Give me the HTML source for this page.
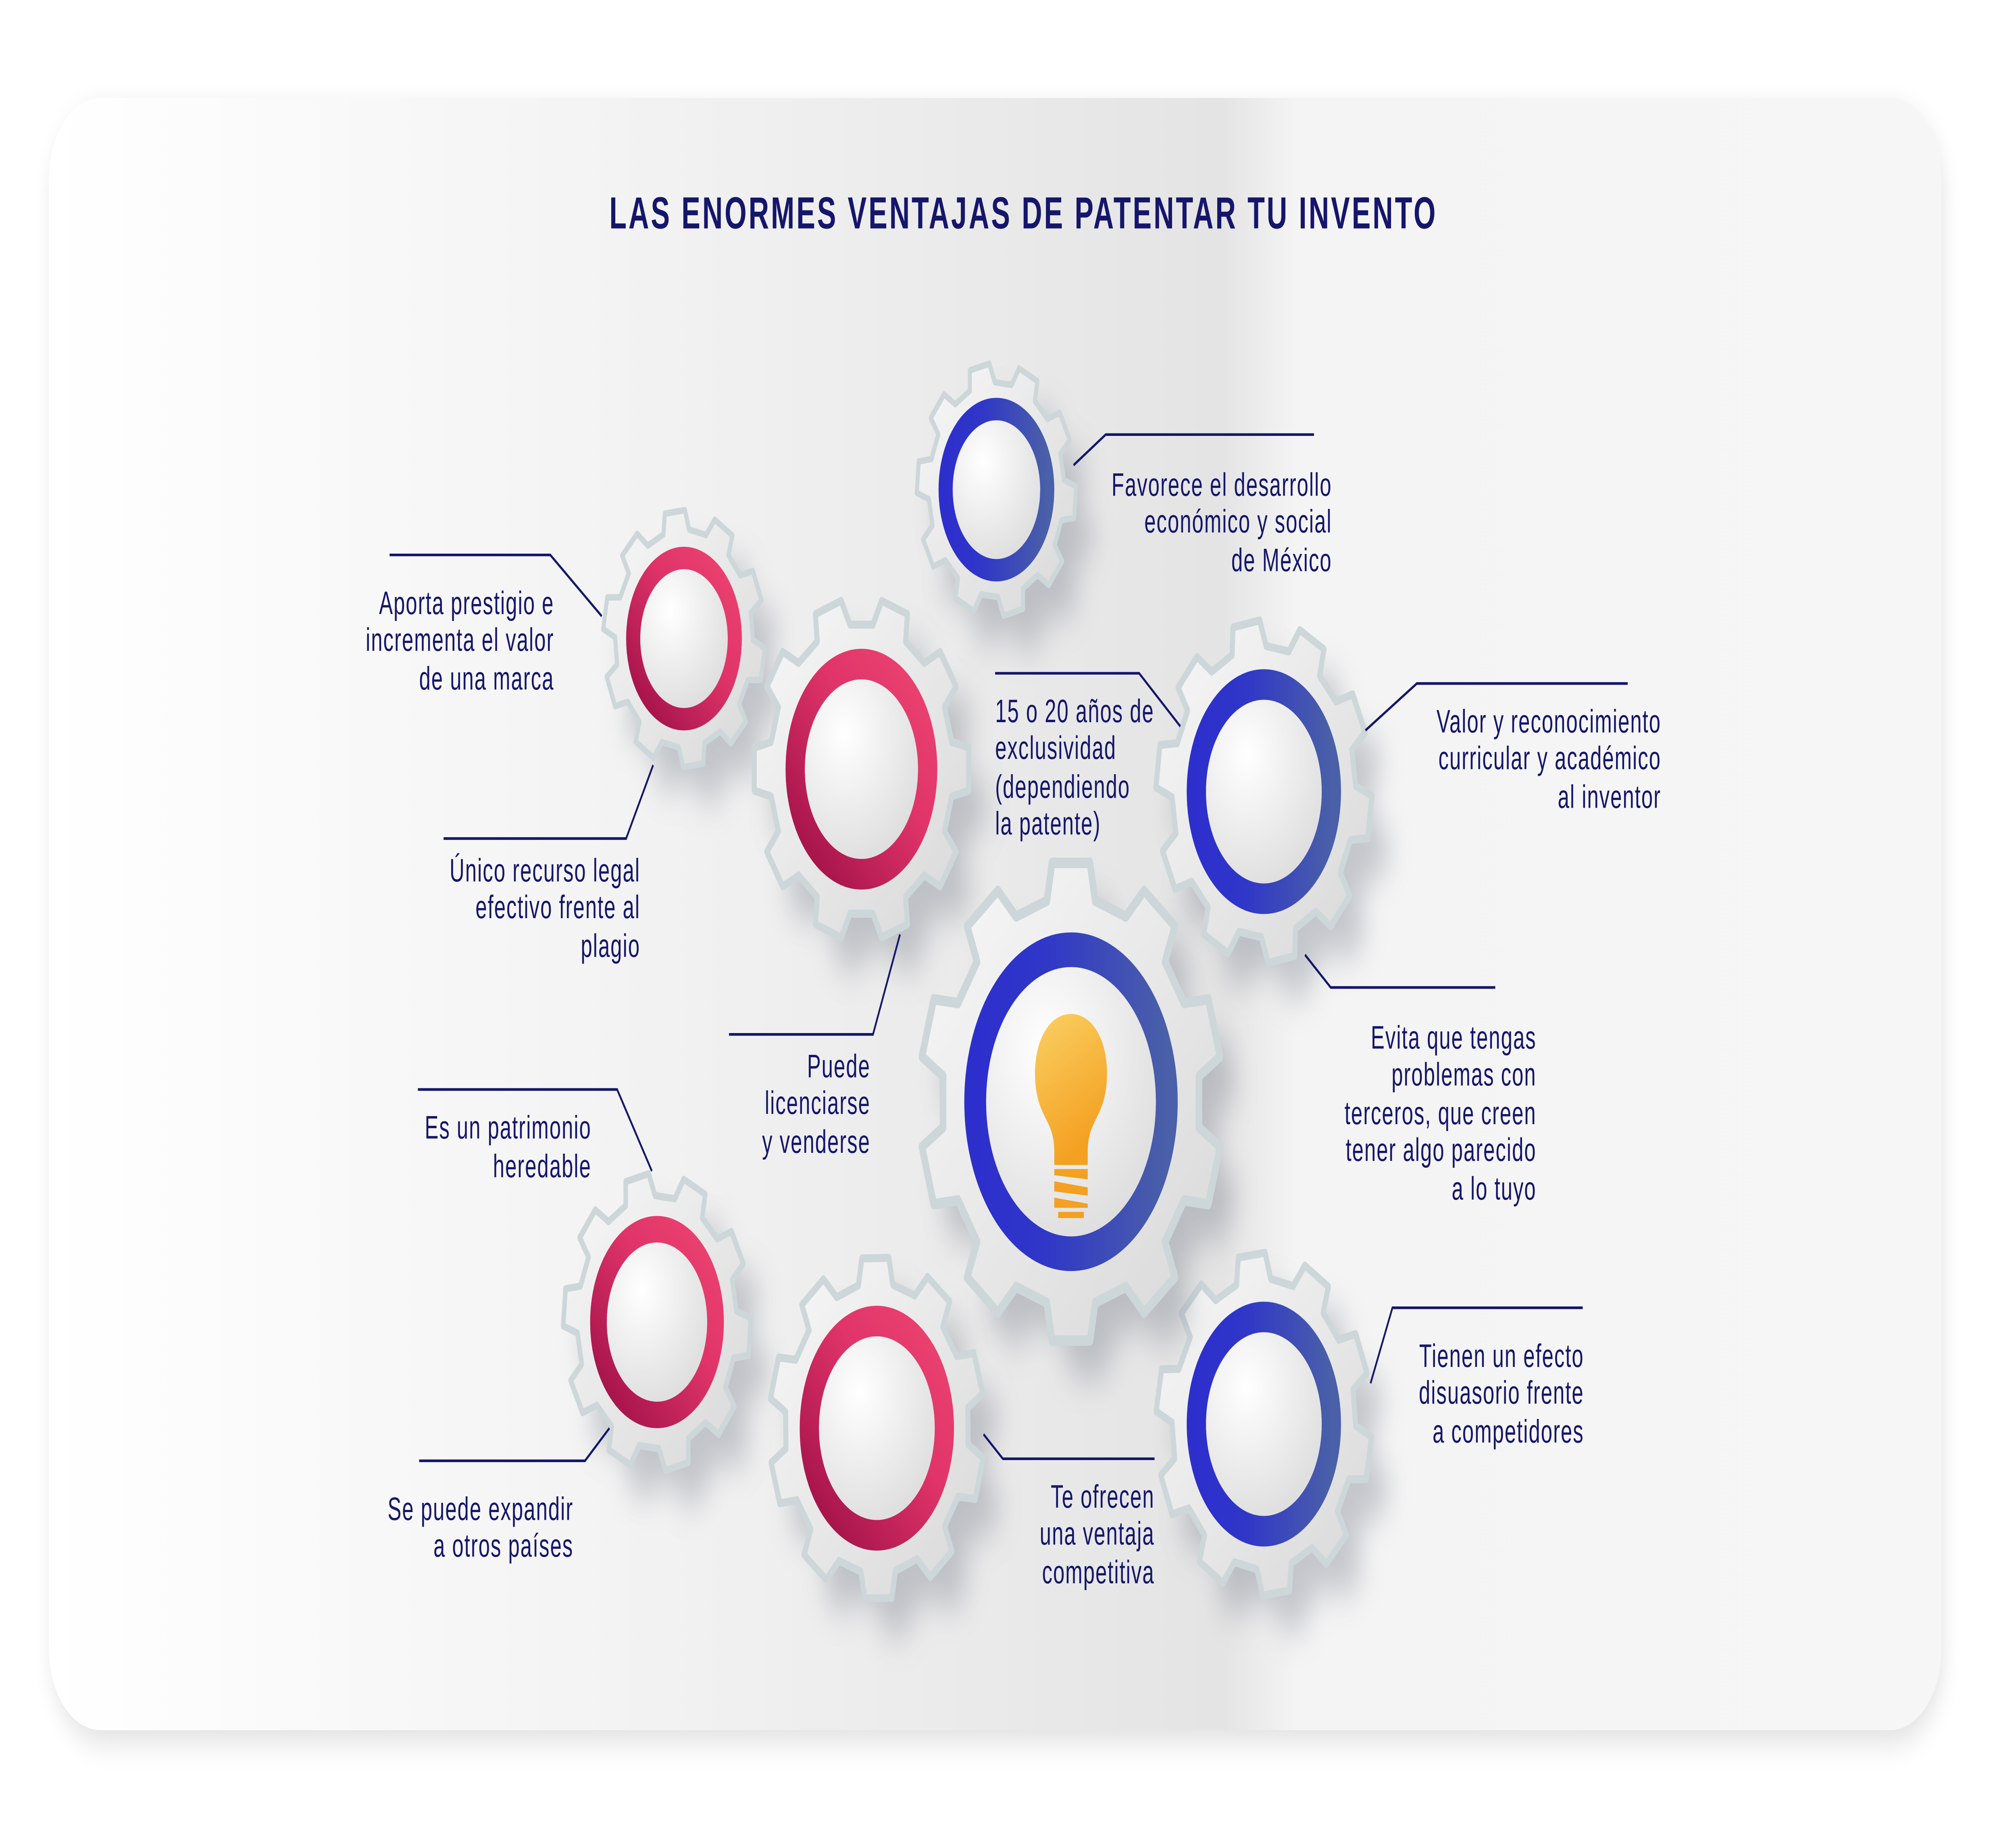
<!DOCTYPE html>
<html><head><meta charset="utf-8"><style>
html,body{margin:0;padding:0;background:#fff;width:100%;height:100%;overflow:hidden}
svg{display:block;width:100vw;height:100vh;position:absolute;left:0;top:0}
text{font-family:"Liberation Sans",sans-serif;fill:#15166b}
</style></head><body>
<svg id="s" viewBox="0 0 1568 894.5" preserveAspectRatio="none" xmlns="http://www.w3.org/2000/svg">
<defs>
<filter id="ps" x="-10%" y="-10%" width="120%" height="130%"><feGaussianBlur stdDeviation="8"/></filter>
<filter id="gs" x="-50%" y="-50%" width="200%" height="200%"><feGaussianBlur stdDeviation="9"/></filter>
<linearGradient id="bg" x1="0" y1="0" x2="1" y2="0">
<stop offset="0" stop-color="#ffffff"/><stop offset="0.3" stop-color="#f3f3f3"/><stop offset="0.62" stop-color="#e4e4e4"/><stop offset="0.66" stop-color="#f4f4f4"/><stop offset="1" stop-color="#f6f6f6"/></linearGradient>
<linearGradient id="gf" x1="0" y1="0" x2="1" y2="1"><stop offset="0" stop-color="#f8f8f8"/><stop offset="1" stop-color="#d8d8d8"/></linearGradient>
<radialGradient id="inn" cx="0.35" cy="0.3" r="0.8"><stop offset="0" stop-color="#ffffff"/><stop offset="1" stop-color="#dcdcdc"/></radialGradient>
<linearGradient id="pink" x1="0" y1="1" x2="1" y2="0"><stop offset="0" stop-color="#9c0f45"/><stop offset="0.6" stop-color="#e0346a"/><stop offset="1" stop-color="#ec4470"/></linearGradient>
<linearGradient id="blue" x1="0" y1="0" x2="1" y2="0"><stop offset="0" stop-color="#2d2fcc"/><stop offset="0.35" stop-color="#2f36c8"/><stop offset="1" stop-color="#4a60a8"/></linearGradient>
<linearGradient id="bulb" x1="0" y1="0" x2="0.4" y2="1"><stop offset="0" stop-color="#fad064"/><stop offset="1" stop-color="#f4a020"/></linearGradient>
</defs>
<rect x="42" y="54" width="1468" height="800" rx="40" fill="#000" opacity="0.12" filter="url(#ps)"/>
<rect x="38" y="48" width="1472" height="800" rx="40" fill="url(#bg)"/>
<text x="796" y="112" text-anchor="middle" font-size="22" font-weight="bold" letter-spacing="1.5" fill="#1a1a6e">LAS ENORMES VENTAJAS  DE PATENTAR TU INVENTO</text>
<g id="gears"></g>
<g stroke="#15166b" stroke-width="1.3" fill="none">
<polyline points="835,228 860,213 1022,213"/>
<polyline points="303,272 428,272 468,302"/>
<polyline points="508,375 487,411 345,411"/>
<polyline points="774,330 886,330 918,356"/>
<polyline points="1062,358 1102,335 1266,335"/>
<polyline points="1015,468 1035,484 1163,484"/>
<polyline points="700,458 679,507 567,507"/>
<polyline points="325,534 480,534 507,574"/>
<polyline points="474,700 455,716 326,716"/>
<polyline points="765,703 780,715 898,715"/>
<polyline points="1066,678 1083,641 1231,641"/>
</g>
<g font-size="16" letter-spacing="0.6">
<g text-anchor="end">
<text x="1036" y="243">Favorece el desarrollo</text><text x="1036" y="261">económico y social</text><text x="1036" y="280">de México</text>
<text x="431" y="301">Aporta prestigio e</text><text x="431" y="319">incrementa el valor</text><text x="431" y="338">de una marca</text>
<text x="498" y="432">Único recurso  legal</text><text x="498" y="450">efectivo frente al</text><text x="498" y="469">plagio</text>
<text x="1292" y="359">Valor y reconocimiento</text><text x="1292" y="377">curricular y académico</text><text x="1292" y="396">al inventor</text>
<text x="1195" y="514">Evita que tengas</text><text x="1195" y="532">problemas con</text><text x="1195" y="551">terceros, que creen</text><text x="1195" y="569">tener algo parecido</text><text x="1195" y="588">a lo tuyo</text>
<text x="677" y="528">Puede</text><text x="677" y="546">licenciarse</text><text x="677" y="565">y venderse</text>
<text x="460" y="558">Es un patrimonio</text><text x="460" y="577">heredable</text>
<text x="446" y="745">Se puede expandir</text><text x="446" y="763">a otros países</text>
<text x="898" y="739">Te ofrecen</text><text x="898" y="757">una ventaja</text><text x="898" y="776">competitiva</text>
<text x="1232" y="670">Tienen un efecto</text><text x="1232" y="688">disuasorio frente</text><text x="1232" y="707">a competidores</text>
</g>
<text x="774" y="354">15 o 20 años de</text><text x="774" y="372">exclusividad</text><text x="774" y="391">(dependiendo</text><text x="774" y="409">la patente)</text>
</g>
</svg>
<script>
var NS="http://www.w3.org/2000/svg",G=document.getElementById("gears");
function el(t,a,p){var e=document.createElementNS(NS,t);for(var k in a)e.setAttribute(k,a[k]);(p||G).appendChild(e);return e;}
function gear(cx,cy,R,n,rot){var r=R*0.85,pts=[],step=2*Math.PI/n;
for(var i=0;i<n;i++){var a=i*step+rot;
var tb=step*0.30,tt=step*0.20;
pts.push([a-tb,r],[a-tt,R],[a+tt,R],[a+tb,r]);}
return "M"+pts.map(function(p){return (cx+p[1]*Math.cos(p[0])).toFixed(2)+","+(cy+p[1]*Math.sin(p[0])).toFixed(2)}).join("L")+"Z";}
var gs=[[775,240,62,45,11,"blue",0.1],[532,313,63,45,11,"pink",0.2],[670,377,84,59,15,"pink",0],[983,388,84,60,15,"blue",0.15],[511,648,73,52,13,"pink",0.1],[682,700,84,60,15,"pink",0.3],[983,698,84,60,15,"blue",0.2],[833,540,118,83,17,"blue",-Math.PI/2]];
gs.forEach(function(g){
var d=gear(g[0],g[1],g[2],10,g[6]);
el("path",{d:gear(g[0]+14,g[1]+18,g[2],10,g[6]),fill:"#6a7280",opacity:"0.35",filter:"url(#gs)"});
el("path",{d:d,fill:"url(#gf)",stroke:"#cdd7da","stroke-width":g[2]*0.035+1,"stroke-linejoin":"round"});
el("circle",{cx:g[0],cy:g[1],r:g[3]-g[4]/2,fill:"none",stroke:"url(#"+g[5]+")","stroke-width":g[4]});
el("circle",{cx:g[0],cy:g[1],r:g[3]-g[4],fill:"url(#inn)"});
});
var b=el("g",{});
el("path",{d:"M833,497 C850,497 861,510 861,526 C861,538 856,544 852,549 C848,554 846,558 846,565 L846,571 L820,571 L820,565 C820,558 818,554 814,549 C810,544 805,538 805,526 C805,510 816,497 833,497Z",fill:"url(#bulb)"},b);
el("path",{d:"M820,573 L846,573 L846,578 L820,576Z M820,579 L846,582 L846,586 L820,584Z M820,587 L846,590 L846,592 L820,592Z M823,594 L843,594 L843,597 L823,597Z",fill:"#f4a020"},b);
</script>
</body></html>
